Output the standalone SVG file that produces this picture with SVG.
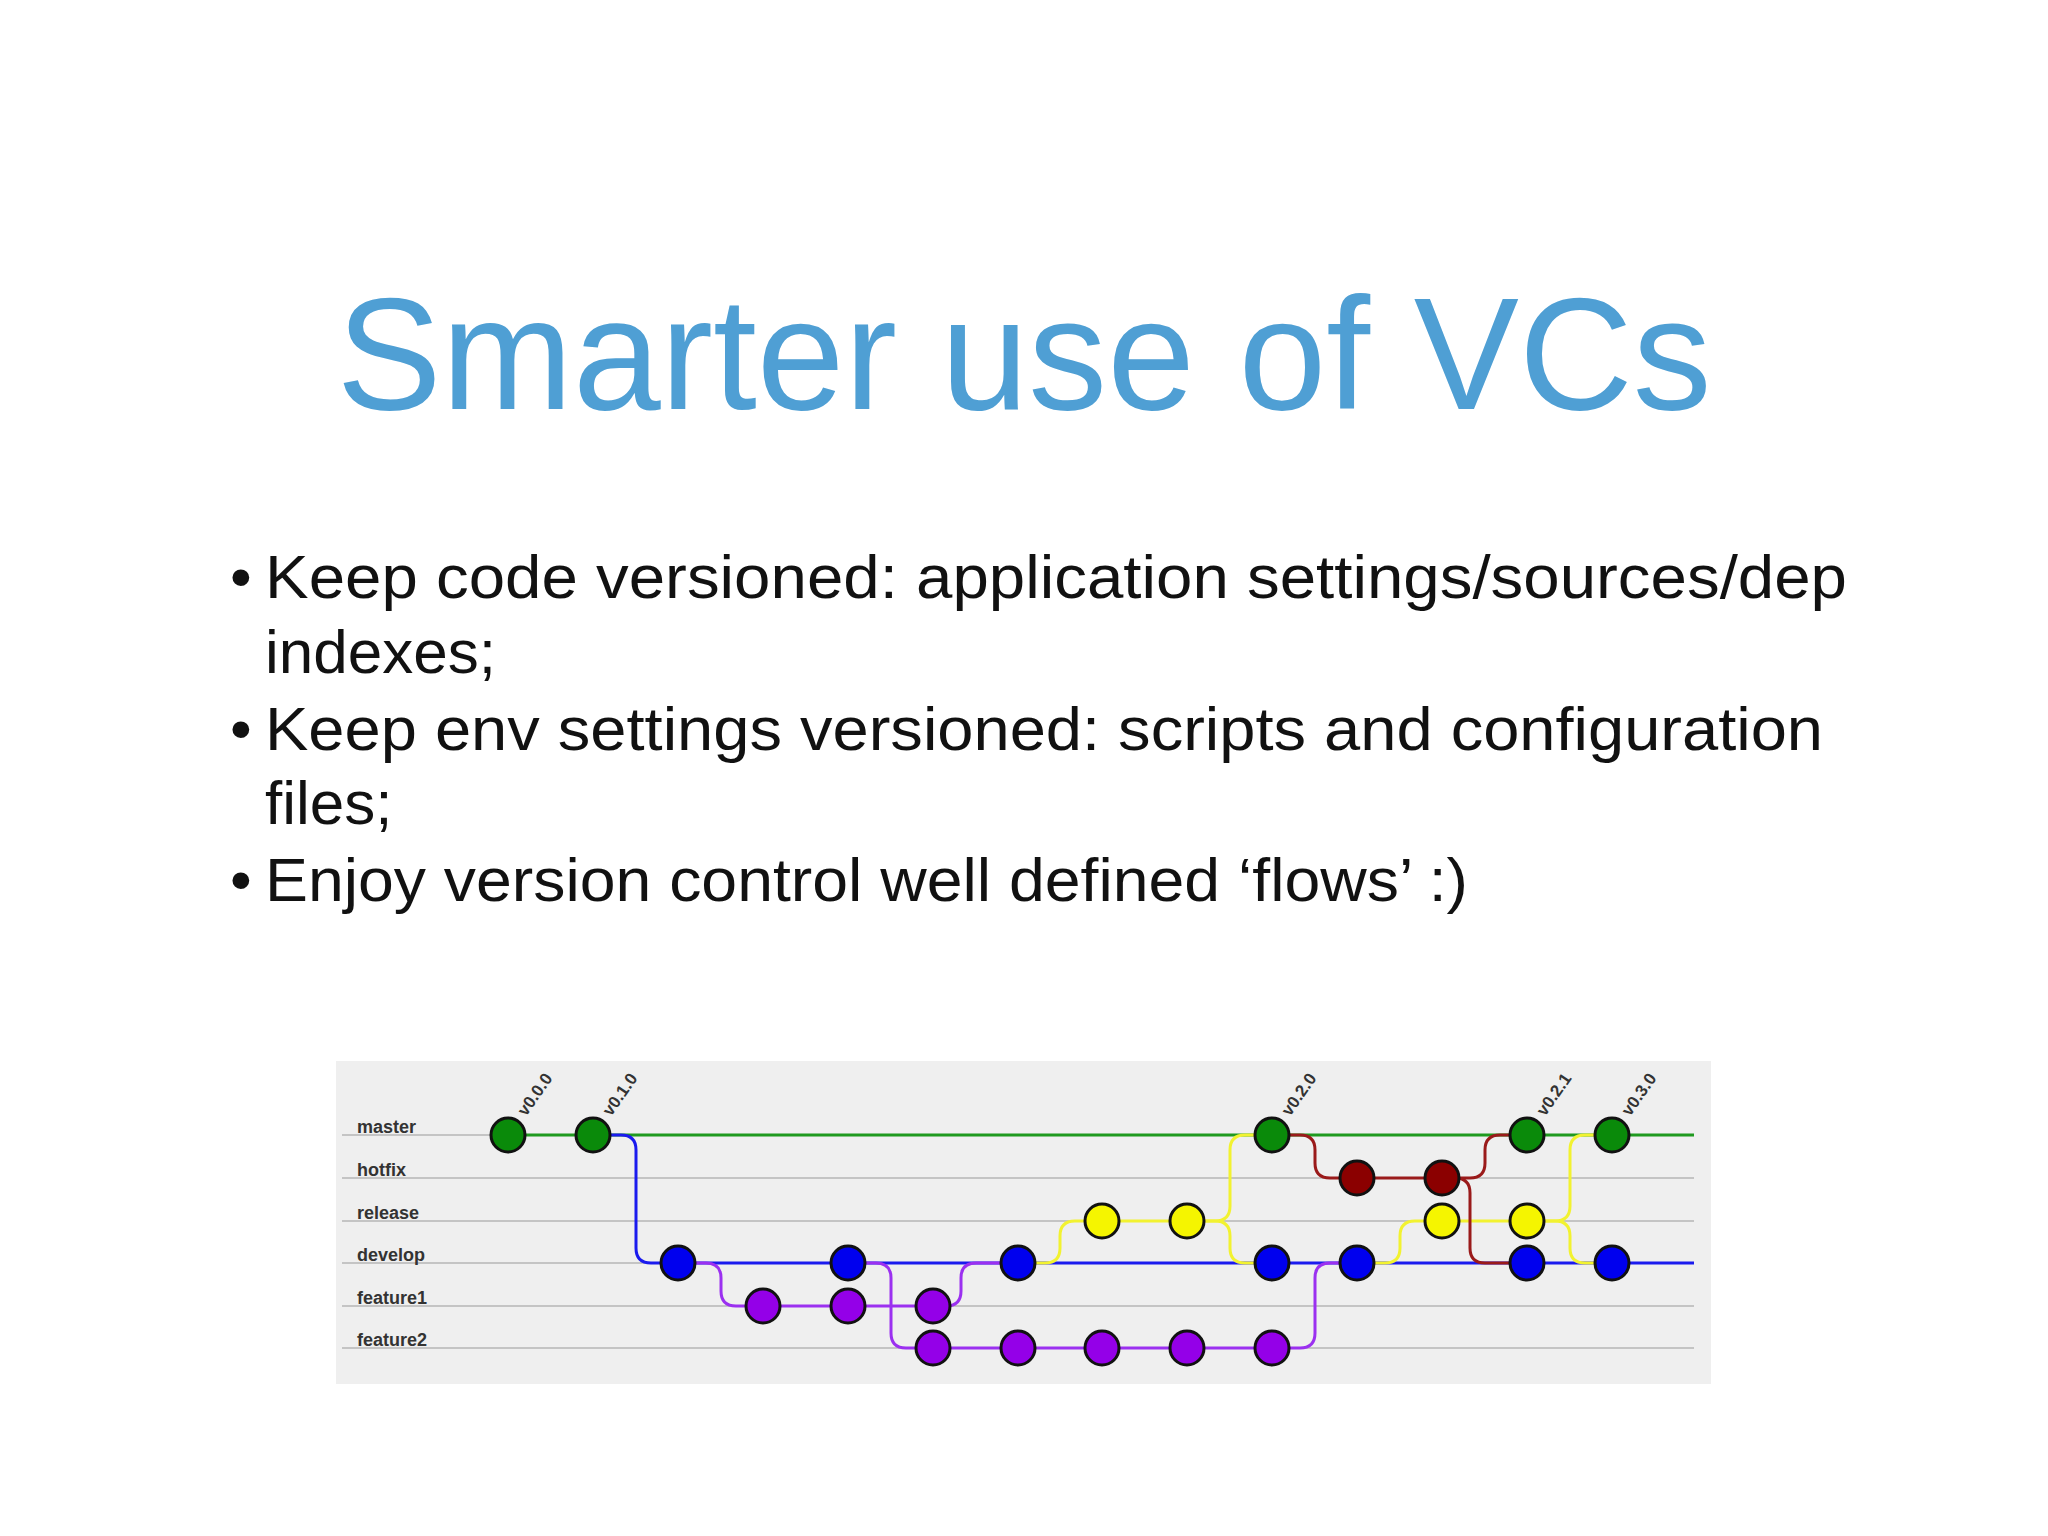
<svg xmlns="http://www.w3.org/2000/svg" width="2048" height="1536" viewBox="0 0 2048 1536">
<style>
.t{font-family:"Liberation Sans",Arial,sans-serif}
.b{font-family:"Liberation Sans",Arial,sans-serif;font-size:62px;fill:#111}
.lane{stroke:#c4c4c4;stroke-width:2;fill:none}
.lab{font-family:"Liberation Sans",Arial,sans-serif;font-size:18px;font-weight:bold;fill:#333}
.tag{font-family:"Liberation Sans",Arial,sans-serif;font-size:17px;font-weight:bold;fill:#333}
.n{stroke:#111;stroke-width:3}
.g{fill:#0a8a0a}.r{fill:#8b0000}.y{fill:#f5f500}.bl{fill:#0000ee}.p{fill:#9400e8}
.cg{stroke:#1f9a1f}.cr{stroke:#9a1a1a}.cy{stroke:#f2f230}.cb{stroke:#1a1aee}.cp{stroke:#9b30f0}
path{fill:none;stroke-width:3}
</style>
<rect width="2048" height="1536" fill="#fff"/>
<text class="t" x="1024" y="409" text-anchor="middle" font-size="160" fill="#4f9fd4" textLength="1375" lengthAdjust="spacingAndGlyphs">Smarter use of VCs</text>
<g id="bullets">
<text class="b" x="230" y="598">•</text><text class="b" x="265" y="598" textLength="1582" lengthAdjust="spacingAndGlyphs">Keep code versioned: application settings/sources/dep</text>
<text class="b" x="265" y="673">indexes;</text>
<text class="b" x="230" y="750">•</text><text class="b" x="265" y="750" textLength="1558" lengthAdjust="spacingAndGlyphs">Keep env settings versioned: scripts and configuration</text>
<text class="b" x="265" y="824">files;</text>
<text class="b" x="230" y="901">•</text><text class="b" x="265" y="901" textLength="1203" lengthAdjust="spacingAndGlyphs">Enjoy version control well defined ‘flows’ :)</text>
</g>
<g id="panel">
<rect x="336" y="1061" width="1375" height="323" fill="#efefef"/>
<g class="lanes">
<line class="lane" x1="342" y1="1135" x2="1694" y2="1135"/>
<line class="lane" x1="342" y1="1178" x2="1694" y2="1178"/>
<line class="lane" x1="342" y1="1221" x2="1694" y2="1221"/>
<line class="lane" x1="342" y1="1263" x2="1694" y2="1263"/>
<line class="lane" x1="342" y1="1306" x2="1694" y2="1306"/>
<line class="lane" x1="342" y1="1348" x2="1694" y2="1348"/>
</g>
<text class="lab" x="357" y="1133">master</text>
<text class="lab" x="357" y="1176">hotfix</text>
<text class="lab" x="357" y="1219">release</text>
<text class="lab" x="357" y="1261">develop</text>
<text class="lab" x="357" y="1304">feature1</text>
<text class="lab" x="357" y="1346">feature2</text>
</g>
<g id="connectors">
<path class="cg" d="M508 1135 H1694"/>
<path class="cb" d="M678 1263 H1694"/>
<path class="cp" d="M763 1306 H933"/>
<path class="cp" d="M933 1348 H1272"/>
<path class="cy" d="M1102 1221 H1187"/>
<path class="cy" d="M1442 1221 H1527"/>
<path class="cr" d="M1357 1178 H1442"/>
<path class="cb" d="M593 1135 H621 Q636 1135 636 1150 V1248 Q636 1263 651 1263 H678"/>
<path class="cp" d="M678 1263 H706 Q721 1263 721 1278 V1291 Q721 1306 736 1306 H763"/>
<path class="cp" d="M848 1263 H876 Q891 1263 891 1278 V1333 Q891 1348 906 1348 H933"/>
<path class="cp" d="M933 1306 H946 Q961 1306 961 1291 V1278 Q961 1263 976 1263 H1018"/>
<path class="cp" d="M1272 1348 H1300 Q1315 1348 1315 1333 V1278 Q1315 1263 1330 1263 H1357"/>
<path class="cy" d="M1018 1263 H1045 Q1060 1263 1060 1248 V1236 Q1060 1221 1075 1221 H1102"/>
<path class="cy" d="M1187 1221 H1215 Q1230 1221 1230 1206 V1150 Q1230 1135 1245 1135 H1272"/>
<path class="cy" d="M1187 1221 H1215 Q1230 1221 1230 1236 V1248 Q1230 1263 1245 1263 H1272"/>
<path class="cy" d="M1357 1263 H1385 Q1400 1263 1400 1248 V1236 Q1400 1221 1415 1221 H1442"/>
<path class="cy" d="M1527 1221 H1555 Q1570 1221 1570 1206 V1150 Q1570 1135 1585 1135 H1612"/>
<path class="cy" d="M1527 1221 H1555 Q1570 1221 1570 1236 V1248 Q1570 1263 1585 1263 H1612"/>
<path class="cr" d="M1272 1135 H1300 Q1315 1135 1315 1150 V1163 Q1315 1178 1330 1178 H1357"/>
<path class="cr" d="M1442 1178 H1470 Q1485 1178 1485 1163 V1150 Q1485 1135 1500 1135 H1527"/>
<path class="cr" d="M1442 1178 H1455 Q1470 1178 1470 1193 V1248 Q1470 1263 1485 1263 H1527"/>
</g>
<g id="nodes">
<g id="master"><circle class="n g" cx="508" cy="1135" r="17"/><circle class="n g" cx="593" cy="1135" r="17"/><circle class="n g" cx="1272" cy="1135" r="17"/><circle class="n g" cx="1527" cy="1135" r="17"/><circle class="n g" cx="1612" cy="1135" r="17"/></g>
<g id="hotfix"><circle class="n r" cx="1357" cy="1178" r="17"/><circle class="n r" cx="1442" cy="1178" r="17"/></g>
<g id="release"><circle class="n y" cx="1102" cy="1221" r="17"/><circle class="n y" cx="1187" cy="1221" r="17"/><circle class="n y" cx="1442" cy="1221" r="17"/><circle class="n y" cx="1527" cy="1221" r="17"/></g>
<g id="develop"><circle class="n bl" cx="678" cy="1263" r="17"/><circle class="n bl" cx="848" cy="1263" r="17"/><circle class="n bl" cx="1018" cy="1263" r="17"/><circle class="n bl" cx="1272" cy="1263" r="17"/><circle class="n bl" cx="1357" cy="1263" r="17"/><circle class="n bl" cx="1527" cy="1263" r="17"/><circle class="n bl" cx="1612" cy="1263" r="17"/></g>
<g id="feature1"><circle class="n p" cx="763" cy="1306" r="17"/><circle class="n p" cx="848" cy="1306" r="17"/><circle class="n p" cx="933" cy="1306" r="17"/></g>
<g id="feature2"><circle class="n p" cx="933" cy="1348" r="17"/><circle class="n p" cx="1018" cy="1348" r="17"/><circle class="n p" cx="1102" cy="1348" r="17"/><circle class="n p" cx="1187" cy="1348" r="17"/><circle class="n p" cx="1272" cy="1348" r="17"/></g>
</g>
<g id="tags">
<text class="tag" transform="translate(526 1117) rotate(-55)">v0.0.0</text>
<text class="tag" transform="translate(611 1117) rotate(-55)">v0.1.0</text>
<text class="tag" transform="translate(1290 1117) rotate(-55)">v0.2.0</text>
<text class="tag" transform="translate(1545 1117) rotate(-55)">v0.2.1</text>
<text class="tag" transform="translate(1630 1117) rotate(-55)">v0.3.0</text>
</g>
</svg>
